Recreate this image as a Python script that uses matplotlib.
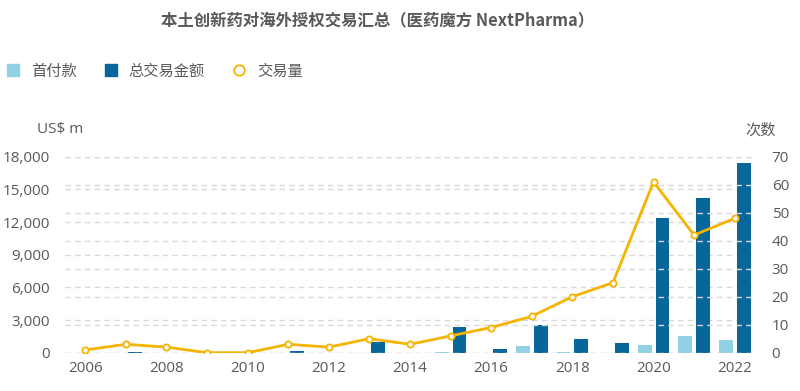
import matplotlib
matplotlib.use("Agg")
import matplotlib.pyplot as plt
from matplotlib.lines import Line2D
import numpy as np

plt.rcParams['font.family'] = ['Noto Sans CJK SC', 'DejaVu Sans']

years = list(range(2006, 2023))
upfront = [0, 0, 0, 0, 0, 0, 0, 0, 0, 100, 0, 580, 30, 0, 670, 1560, 1160]
total = [0, 100, 0, 0, 0, 150, 0, 1000, 0, 2400, 300, 2510, 1220, 860, 12340, 14170, 17450]
deals = [1, 3, 2, 0, 0, 3, 2, 5, 3, 6, 9, 13, 20, 25, 61, 42, 48]

title = "本土创新药对海外授权交易汇总（医药魔方 NextPharma）"
legend_labels = ["首付款", "总交易金额", "交易量"]
left_ticks = [0, 3000, 6000, 9000, 12000, 15000, 18000]
right_ticks = [0, 10, 20, 30, 40, 50, 60, 70]
xtick_years = [2006, 2008, 2010, 2012, 2014, 2016, 2018, 2020, 2022]

C_LIGHT = "#92d0e4"
C_DARK = "#07679a"
C_LINE = "#f5b400"
C_TEXT = "#595959"
C_GRID = "#d9d9d9"

fig = plt.figure(figsize=(8, 3.91), dpi=100)
ax = fig.add_axes([65/800, (391-352.7)/391, 690/800, 196/391])
ax2 = ax.twinx()

x = np.array(years, dtype=float)
w = 0.34
ax.bar(x - 0.22, upfront, width=w, color=C_LIGHT, zorder=2)
ax.bar(x + 0.22, total, width=w, color=C_DARK, zorder=2)
ax2.plot(x, deals, color=C_LINE, lw=2, marker='o', ms=4.5, mfc='white',
         mec=C_LINE, mew=1.3, zorder=5)

ax.set_xlim(2005.5, 2022.5)
ax.set_ylim(0, 18000)
ax2.set_ylim(0, 70)

for t in left_ticks:
    ax.axhline(t, color=C_GRID, lw=1, ls=(0, (4, 3)), zorder=0)
for t in right_ticks:
    ax2.axhline(t, color=C_GRID, lw=1, ls=(0, (4, 3)), zorder=0)

ax.set_yticks(left_ticks)
ax.set_yticklabels([f"{v:,}" for v in left_ticks], family=['Open Sans', 'DejaVu Sans'])
ax2.set_yticks(right_ticks)
ax2.set_yticklabels([str(v) for v in right_ticks], family=['Open Sans', 'DejaVu Sans'])
ax.set_xticks(xtick_years)
ax.set_xticklabels([str(v) for v in xtick_years], family=['Open Sans', 'DejaVu Sans'])

for a in (ax, ax2):
    for s in a.spines.values():
        s.set_visible(False)
    a.tick_params(length=0, labelsize=11, colors=C_TEXT)
ax.tick_params(axis='y', pad=11)
ax2.tick_params(axis='y', pad=12)
ax.tick_params(axis='x', pad=6)

fig.text(37/800, 1 - 130/391, "US$ m", fontsize=11, color=C_TEXT,
         family=['Open Sans', 'DejaVu Sans'], va='center', ha='left')
fig.text(745/800, 1 - 130/391, "次数", fontsize=11, color=C_TEXT,
         va='center', ha='left')

fig.text(378/800, 1 - 20/391, title, fontsize=11.8, fontweight='bold',
         color=C_TEXT, ha='center', va='center')

handles = [
    Line2D([], [], marker='s', ls='none', color=C_LIGHT, ms=8),
    Line2D([], [], marker='s', ls='none', color=C_DARK, ms=8),
    Line2D([], [], marker='o', ls='none', mfc='white', mec=C_LINE, mew=1.3, ms=7.5),
]
leg = fig.legend(handles, legend_labels, loc='center left',
                 bbox_to_anchor=(-8/800, 1 - 71/391), ncol=3, frameon=False,
                 fontsize=11, handlelength=1.0, handletextpad=0.65,
                 columnspacing=1.75)
for t in leg.get_texts():
    t.set_color(C_TEXT)

fig.savefig("out.png", dpi=100, facecolor='white')
